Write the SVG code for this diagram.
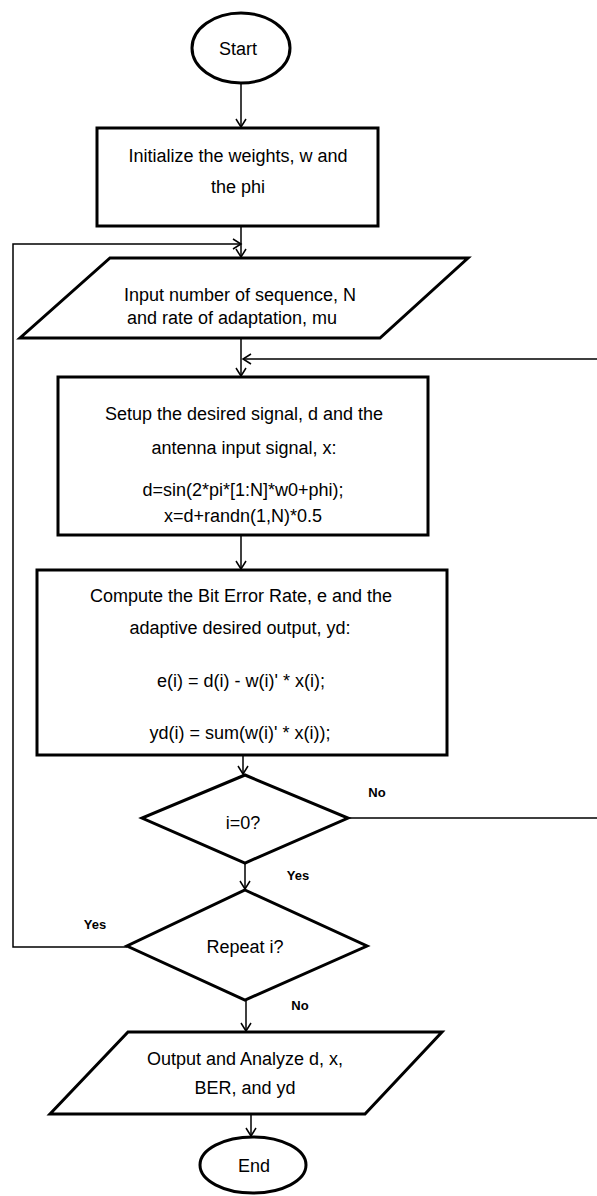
<svg xmlns="http://www.w3.org/2000/svg" width="597" height="1196" viewBox="0 0 597 1196">
<style>
.shape{fill:#fff;stroke:#000;stroke-width:3;stroke-linejoin:miter}
.conn{fill:none;stroke:#000;stroke-width:1.5}
text{font-family:"Liberation Sans",Arial,sans-serif;font-size:18px;fill:#000;text-anchor:middle}
.lbl{font-size:13px;font-weight:bold}
</style>
<defs>
<marker id="arr" markerWidth="12" markerHeight="12" refX="10" refY="6" orient="auto" markerUnits="userSpaceOnUse">
<path d="M2,1 L10,6 L2,11" fill="none" stroke="#000" stroke-width="1.5"/>
</marker>
</defs>
<rect width="597" height="1196" fill="#fff"/>
<g id="connectors">
<line class="conn" x1="241" y1="83" x2="241" y2="127" marker-end="url(#arr)"/>
<line class="conn" x1="241" y1="226" x2="241" y2="257" marker-end="url(#arr)"/>
<polyline class="conn" points="127,947 13,947 13,244 241,244" marker-end="url(#arr)"/>
<line class="conn" x1="241" y1="338" x2="241" y2="376" marker-end="url(#arr)"/>
<polyline class="conn" points="348,818 602,818 602,359 243,359" marker-end="url(#arr)"/>
<line class="conn" x1="241" y1="535" x2="241" y2="569" marker-end="url(#arr)"/>
<line class="conn" x1="243" y1="755" x2="243" y2="774" marker-end="url(#arr)"/>
<line class="conn" x1="245" y1="863" x2="245" y2="889" marker-end="url(#arr)"/>
<line class="conn" x1="246" y1="1000" x2="246" y2="1031" marker-end="url(#arr)"/>
<line class="conn" x1="251" y1="1114" x2="251" y2="1136" marker-end="url(#arr)"/>
<text class="lbl" x="377" y="797">No</text>
<text class="lbl" x="298" y="880">Yes</text>
<text class="lbl" x="95" y="929">Yes</text>
<text class="lbl" x="300" y="1010">No</text>
</g>
<g id="start">
<ellipse class="shape" cx="241" cy="48" rx="49" ry="35"/>
<text x="238" y="55">Start</text>
</g>
<g id="init">
<rect class="shape" x="97" y="128" width="281" height="98"/>
<text x="238" y="162">Initialize the weights, w and</text>
<text x="238" y="193">the phi</text>
</g>
<g id="input">
<polygon class="shape" points="110,258 468,258 380,338 20,338"/>
<text x="240" y="301">Input number of sequence, N</text>
<text x="232" y="324">and rate of adaptation, mu</text>
</g>
<g id="setup">
<rect class="shape" x="58" y="377" width="370" height="158"/>
<text x="244" y="420">Setup the desired signal, d and the</text>
<text x="244" y="454">antenna input signal, x:</text>
<text x="243" y="496">d=sin(2*pi*[1:N]*w0+phi);</text>
<text x="243" y="522">x=d+randn(1,N)*0.5</text>
</g>
<g id="compute">
<rect class="shape" x="37" y="570" width="410" height="185"/>
<text x="241" y="602">Compute the Bit Error Rate, e and the</text>
<text x="240" y="634">adaptive desired output, yd:</text>
<text x="241" y="687">e(i) = d(i) - w(i)' * x(i);</text>
<text x="240" y="739">yd(i) = sum(w(i)' * x(i));</text>
</g>
<g id="dec1">
<polygon class="shape" points="245,775 348,818 245,863 142,818"/>
<text x="243" y="829">i=0?</text>
</g>
<g id="dec2">
<polygon class="shape" points="245,890 367,946 245,1000 127,946"/>
<text x="245" y="953">Repeat i?</text>
</g>
<g id="output">
<polygon class="shape" points="128,1032 442,1032 365,1114 50,1114"/>
<text x="245" y="1065">Output and Analyze d, x,</text>
<text x="245" y="1094">BER, and yd</text>
</g>
<g id="end">
<ellipse class="shape" cx="253" cy="1165" rx="53" ry="28"/>
<text x="254" y="1172">End</text>
</g>
</svg>
